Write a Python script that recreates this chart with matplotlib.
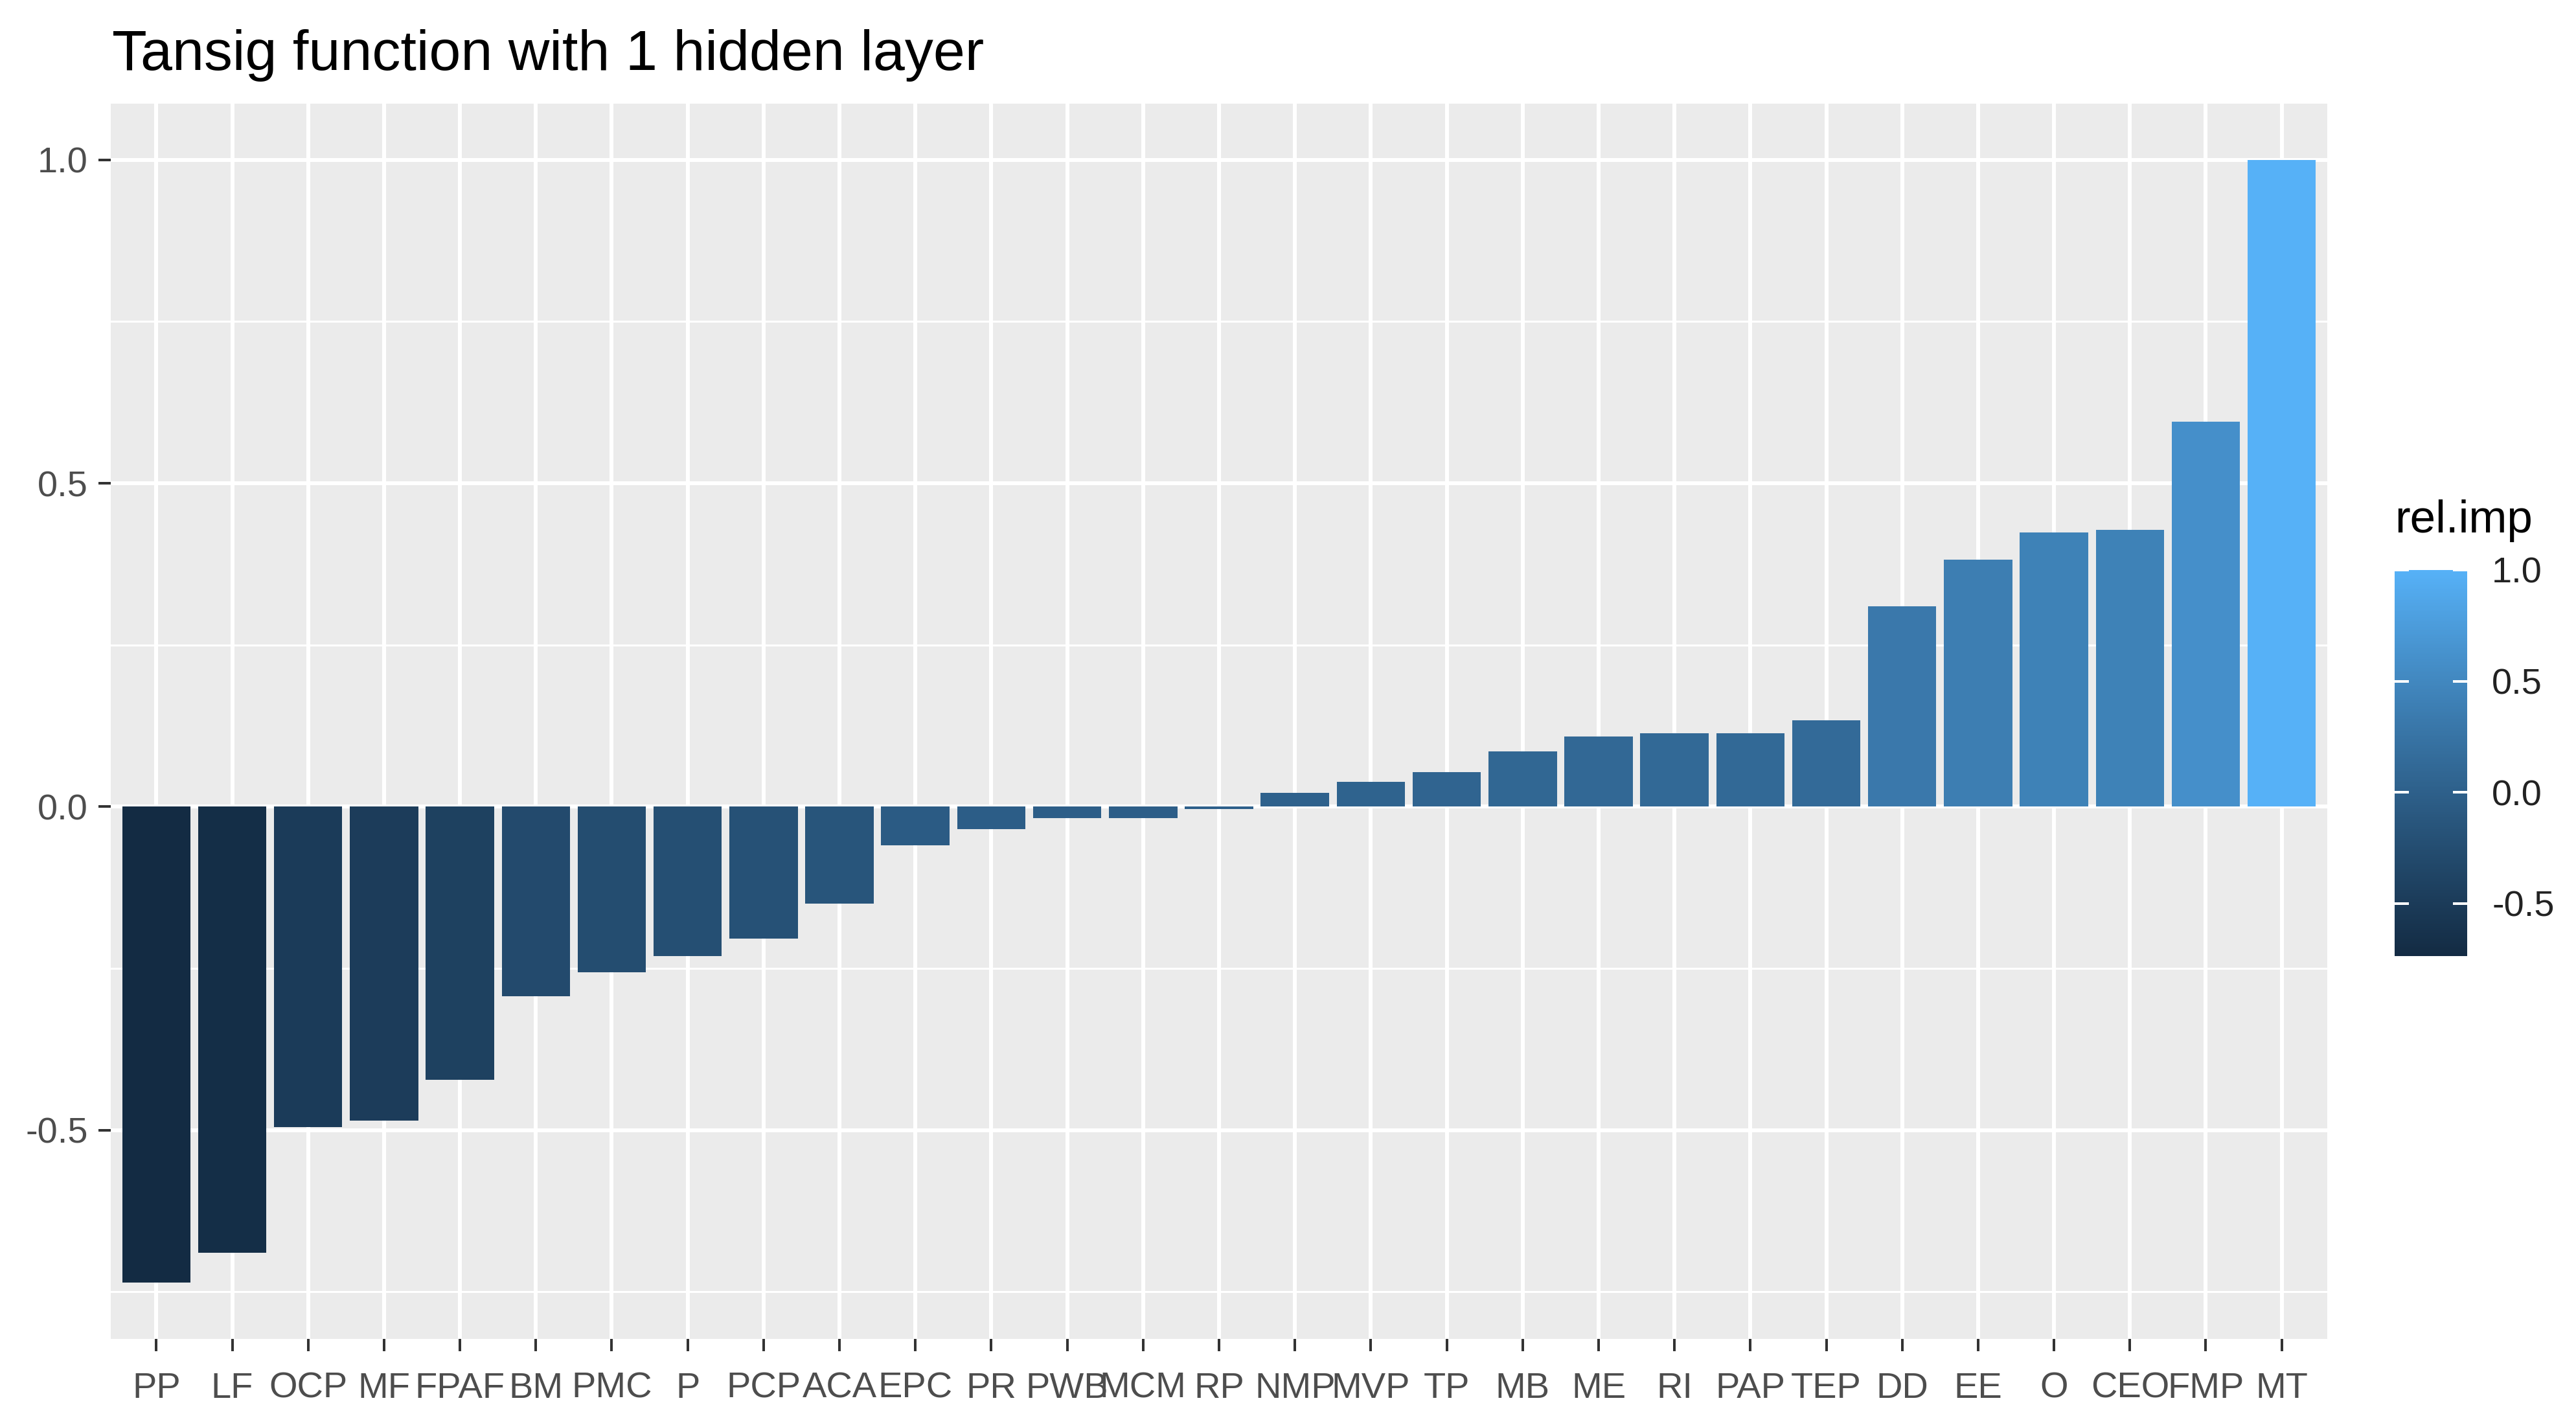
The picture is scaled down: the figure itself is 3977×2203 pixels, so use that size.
import numpy as np
import matplotlib
matplotlib.use("Agg")
import matplotlib.pyplot as plt
from matplotlib.colors import ListedColormap, Normalize
from matplotlib.cm import ScalarMappable

# data
features = ["PP", "LF", "OCP", "MF", "FPAF", "BM", "PMC", "P", "PCP", "ACA",
            "EPC", "PR", "PWB", "MCM", "RP", "NMP", "MVP", "TP", "MB", "ME",
            "RI", "PAP", "TEP", "DD", "EE", "O", "CEO", "FMP", "MT"]
rel_imp = [-0.736, -0.690, -0.495, -0.485, -0.422, -0.293, -0.256, -0.231,
           -0.204, -0.150, -0.060, -0.035, -0.018, -0.018, -0.004, 0.021,
           0.038, 0.053, 0.085, 0.108, 0.113, 0.113, 0.134, 0.310, 0.382,
           0.424, 0.428, 0.595, 1.0]
y_ticks = [-0.5, 0.0, 0.5, 1.0]
y_minor = [-0.75, -0.25, 0.25, 0.75]
title = "Tansig function with 1 hidden layer"
legend_title = "rel.imp"

W, H = 3977, 2203
DPI = 72  # 1 pt == 1 px


def hex_to_lab(h):
    rgb = np.array([int(h[i:i + 2], 16) for i in (1, 3, 5)]) / 255.0
    lin = np.where(rgb <= 0.04045, rgb / 12.92, ((rgb + 0.055) / 1.055) ** 2.4)
    m = np.array([[0.4124, 0.3576, 0.1805],
                  [0.2126, 0.7152, 0.0722],
                  [0.0193, 0.1192, 0.9505]])
    xyz = m @ lin / np.array([0.95047, 1.0, 1.08883])
    f = np.where(xyz > 0.008856, np.cbrt(xyz), 7.787 * xyz + 16 / 116)
    return np.array([116 * f[1] - 16, 500 * (f[0] - f[1]), 200 * (f[1] - f[2])])


def lab_to_rgb(lab):
    L, a, b = lab[:, 0], lab[:, 1], lab[:, 2]
    fy = (L + 16) / 116
    fx = fy + a / 500
    fz = fy - b / 200
    f = np.stack([fx, fy, fz], axis=1)
    xyz = np.where(f ** 3 > 0.008856, f ** 3, (f - 16 / 116) / 7.787)
    xyz = xyz * np.array([0.95047, 1.0, 1.08883])
    minv = np.array([[3.2406, -1.5372, -0.4986],
                     [-0.9689, 1.8758, 0.0415],
                     [0.0557, -0.2040, 1.0570]])
    lin = xyz @ minv.T
    lin = np.clip(lin, 0, 1)
    rgb = np.where(lin <= 0.0031308, 12.92 * lin, 1.055 * lin ** (1 / 2.4) - 0.055)
    return np.clip(rgb, 0, 1)


# ggplot2 default continuous fill: #132B43 -> #56B1F7 in Lab space
t = np.linspace(0, 1, 256)[:, None]
lab = hex_to_lab("#132B43") * (1 - t) + hex_to_lab("#56B1F7") * t
cmap = ListedColormap(lab_to_rgb(lab))
norm = Normalize(vmin=min(rel_imp), vmax=max(rel_imp))

fig = plt.figure(figsize=(W / DPI, H / DPI), dpi=DPI)
fig.patch.set_facecolor("white")
plt.rcParams["font.family"] = ["Liberation Sans", "DejaVu Sans"]

# panel box in pixels
left, right, top, bottom = 171, 3593, 160, 2067
ax = fig.add_axes([left / W, 1 - bottom / H, (right - left) / W, (bottom - top) / H])
ax.set_facecolor("#EBEBEB")

x = np.arange(len(features))
ax.bar(x, rel_imp, width=0.9, color=cmap(norm(np.array(rel_imp))), zorder=3)

span = max(rel_imp) - min(rel_imp)
ax.set_ylim(min(rel_imp) - 0.05 * span, max(rel_imp) + 0.05 * span)
ax.set_xlim(-0.6, len(features) - 0.4)

ax.set_yticks(y_ticks)
ax.set_yticklabels([f"{v:.1f}" for v in y_ticks])
ax.set_yticks(y_minor, minor=True)
ax.set_xticks(x)
ax.set_xticklabels(features)

ax.grid(True, which="major", color="white", linewidth=6, zorder=1)
ax.grid(True, which="minor", axis="y", color="white", linewidth=3, zorder=1)
ax.set_axisbelow(True)
ax.tick_params(which="major", length=19, width=4, color="#333333",
               labelsize=56, labelcolor="#4D4D4D", pad=16)
ax.tick_params(axis="x", which="major", pad=32)
ax.tick_params(which="minor", length=0)
for s in ax.spines.values():
    s.set_visible(False)

fig.text(173 / W, 1 - 108 / H, title, fontsize=88, color="black",
         ha="left", va="baseline")

# colour bar legend
cl, cr, ct, cb = 3697, 3809, 880, 1476
cax = fig.add_axes([cl / W, 1 - cb / H, (cr - cl) / W, (cb - ct) / H])
cbar = fig.colorbar(ScalarMappable(norm=norm, cmap=cmap), cax=cax)
cbar.set_ticks(y_ticks)
cbar.set_ticklabels([f"{v:.1f}" for v in y_ticks])
cbar.outline.set_visible(False)
cax.yaxis.set_ticks_position("both")
cax.tick_params(direction="in", color="white", length=22, width=4,
                labelsize=56, labelcolor="#222222", pad=38,
                left=True, right=True, labelleft=False, labelright=True)
fig.text(3697 / W, 1 - 822 / H, legend_title, fontsize=71, color="black",
         ha="left", va="baseline")

fig.savefig("out.png", dpi=DPI, facecolor="white")
